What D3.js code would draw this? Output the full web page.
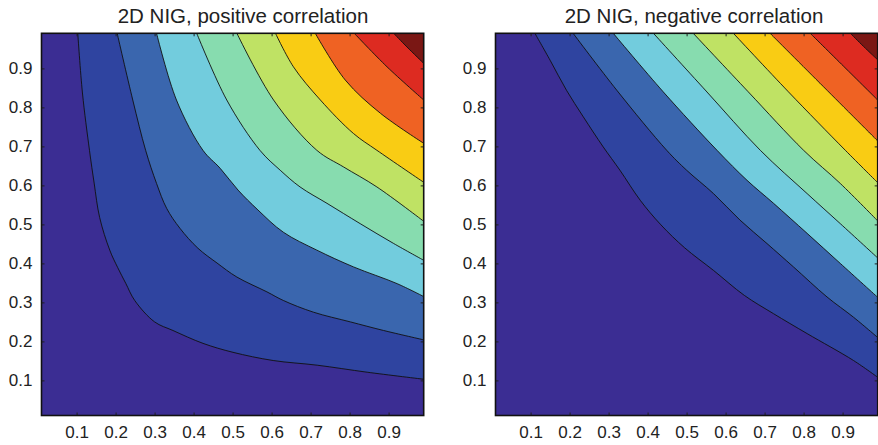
<!DOCTYPE html>
<html>
<head>
<meta charset="utf-8">
<script src="https://cdn.jsdelivr.net/npm/d3@7"></script>
<style>
  body { margin: 0; background: #fff; }
  text { font-family: "Liberation Sans", Arial, sans-serif; fill: #222; }
</style>
</head>
<body>
<svg class="chart" width="878" height="445"></svg>
<script>
// tick values and contour levels (copula cdf)
const tickValues = [0.1, 0.2, 0.3, 0.4, 0.5, 0.6, 0.7, 0.8, 0.9];
const levels = [0.1, 0.2, 0.3, 0.4, 0.5, 0.6, 0.7, 0.8, 0.9];
const bandColors = ['#3b2d93', '#2f44a0', '#3a66ae', '#72ccdd', '#87dcaf',
                    '#bfe264', '#f9cc14', '#ef6223', '#dd2b21', '#7a1714'];
const titles = ['2D NIG, positive correlation', '2D NIG, negative correlation'];

// contour lines [u, v], one per level
const posContours = [
  [[0.103,0.99],[0.115,0.837],[0.133,0.690],[0.145,0.606],[0.159,0.518],[0.185,0.434],[0.205,0.390],[0.226,0.349],[0.249,0.305],[0.300,0.250],[0.347,0.228],[0.424,0.195],[0.501,0.172],[0.604,0.151],[0.717,0.139],[0.845,0.121],[0.99,0.103]],
  [[0.204,0.99],[0.244,0.819],[0.277,0.690],[0.305,0.605],[0.331,0.541],[0.365,0.490],[0.411,0.439],[0.460,0.401],[0.511,0.365],[0.588,0.327],[0.630,0.305],[0.707,0.275],[0.802,0.250],[0.887,0.228],[0.99,0.204]],
  [[0.305,0.99],[0.356,0.819],[0.424,0.690],[0.468,0.644],[0.514,0.588],[0.565,0.537],[0.630,0.480],[0.716,0.434],[0.810,0.391],[0.922,0.348],[0.99,0.315]],
  [[0.408,0.99],[0.485,0.819],[0.570,0.690],[0.622,0.639],[0.673,0.596],[0.742,0.554],[0.827,0.502],[0.913,0.451],[0.99,0.408]],
  [[0.511,0.99],[0.605,0.819],[0.716,0.690],[0.785,0.647],[0.870,0.596],[0.99,0.508]],
  [[0.610,0.99],[0.656,0.904],[0.725,0.819],[0.810,0.733],[0.870,0.690],[0.99,0.608]],
  [[0.712,0.99],[0.789,0.870],[0.879,0.785],[0.99,0.708]],
  [[0.812,0.99],[0.896,0.904],[0.99,0.819]],
  [[0.913,0.99],[0.947,0.955],[0.99,0.913]]
];

const negContours = [
  [[0.111,0.99],[0.150,0.921],[0.192,0.844],[0.235,0.776],[0.286,0.699],[0.329,0.639],[0.381,0.562],[0.434,0.499],[0.495,0.440],[0.569,0.382],[0.648,0.318],[0.723,0.271],[0.809,0.220],[0.928,0.151],[0.99,0.108]],
  [[0.209,0.99],[0.321,0.844],[0.449,0.690],[0.500,0.639],[0.569,0.579],[0.637,0.511],[0.706,0.451],[0.774,0.391],[0.860,0.314],[0.928,0.262],[0.99,0.210]],
  [[0.312,0.99],[0.440,0.840],[0.578,0.690],[0.655,0.613],[0.723,0.554],[0.809,0.477],[0.894,0.400],[0.99,0.313]],
  [[0.415,0.99],[0.550,0.842],[0.689,0.690],[0.809,0.579],[0.894,0.502],[0.99,0.414]],
  [[0.517,0.99],[0.658,0.840],[0.800,0.690],[0.894,0.605],[0.99,0.509]],
  [[0.620,0.99],[0.761,0.840],[0.907,0.690],[0.99,0.607]],
  [[0.714,0.99],[0.851,0.853],[0.99,0.714]],
  [[0.817,0.99],[0.903,0.905],[0.99,0.819]],
  [[0.920,0.99],[0.954,0.956],[0.99,0.922]]
];

// plot boxes
let panels = [
  { left: 41.5, titleX: 243, contours: posContours, title: titles[0] },
  { left: 495.5, titleX: 694, contours: negContours, title: titles[1] }
];
let plotTop = 33.3, size = 382.2;

let svg = d3.select('.chart');

panels.forEach((p, i) => {
  let x = d3.scaleLinear().domain([0.01, 0.99]).range([p.left, p.left + size]);
  let y = d3.scaleLinear().domain([0.01, 0.99]).range([plotTop + size, plotTop]);

  svg.append('clipPath')
      .attr('id', 'clip' + i)
    .append('rect')
      .attr('x', p.left).attr('y', plotTop)
      .attr('width', size).attr('height', size);

  let g = svg.append('g')
      .attr('clip-path', `url(#clip${i})`);

  g.append('rect')
      .attr('x', p.left).attr('y', plotTop)
      .attr('width', size).attr('height', size)
      .attr('fill', bandColors[0]);

  let line = d3.line()
      .x((d) => x(d[0]))
      .y((d) => y(d[1]))
      .curve(d3.curveCatmullRom.alpha(0.5));

  // each band: region above/right of its lower contour
  g.selectAll('.band')
      .data(p.contours)
    .enter().append('path')
      .attr('class', 'band')
      .attr('d', (d) => line(d) + `L${x(0.99) + 2},${y(0.99) - 2}Z`)
      .attr('fill', (d, k) => bandColors[k + 1]);

  g.selectAll('.level')
      .data(p.contours)
    .enter().append('path')
      .attr('class', 'level')
      .attr('d', line)
      .attr('fill', 'none')
      .attr('stroke', '#111')
      .attr('stroke-width', 0.9);

  let fmt = d3.format('.1f');

  svg.append('g')
      .attr('transform', `translate(${p.left},0)`)
      .call(d3.axisLeft(y).tickValues(tickValues).tickFormat(fmt).tickSize(-3).tickPadding(9))
      .call((a) => a.select('.domain').remove());

  svg.append('g')
      .attr('transform', `translate(0,${plotTop + size})`)
      .call(d3.axisBottom(x).tickValues(tickValues).tickFormat(fmt).tickSize(-3).tickPadding(10))
      .call((a) => a.select('.domain').remove());

  svg.append('g')
      .attr('transform', `translate(${p.left + size},0)`)
      .call(d3.axisRight(y).tickValues(tickValues).tickFormat('').tickSize(-3))
      .call((a) => a.select('.domain').remove());

  svg.append('g')
      .attr('transform', `translate(0,${plotTop})`)
      .call(d3.axisTop(x).tickValues(tickValues).tickFormat('').tickSize(-3))
      .call((a) => a.select('.domain').remove());

  svg.selectAll('.tick text')
      .attr('font-size', 17)
      .attr('font-family', '"Liberation Sans", Arial, sans-serif')
      .attr('fill', '#222');
  svg.selectAll('.tick line')
      .attr('stroke', '#222');

  svg.append('rect')
      .attr('x', p.left).attr('y', plotTop)
      .attr('width', size).attr('height', size)
      .attr('fill', 'none')
      .attr('stroke', '#111')
      .attr('stroke-width', 1.6);

  svg.append('text')
      .attr('x', p.titleX)
      .attr('y', 22.7)
      .attr('text-anchor', 'middle')
      .attr('font-size', 20.5)
      .text(p.title);
});
</script>
</body>
</html>
